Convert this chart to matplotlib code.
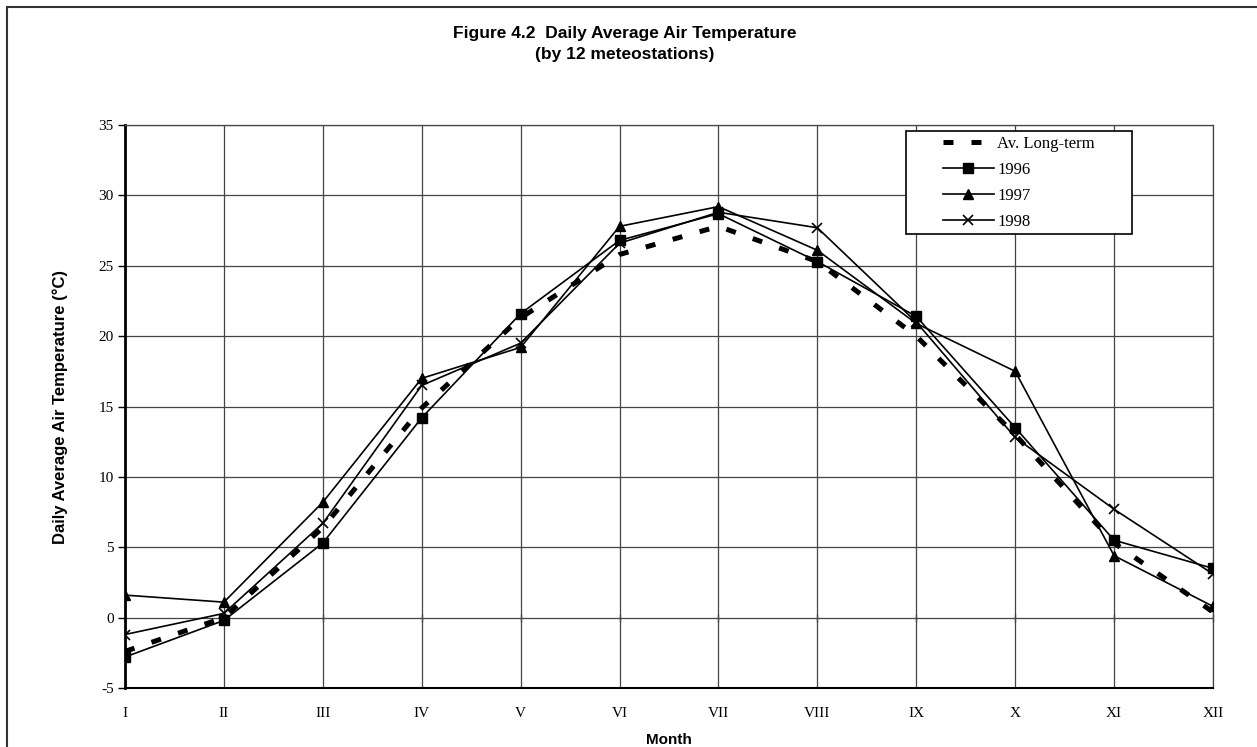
"""Figure 4.2 - daily average air temperature by month (12 meteostations)."""
import matplotlib

matplotlib.use("Agg")
import matplotlib.pyplot as plt
from matplotlib.patches import Rectangle

months = ["I", "II", "III", "IV", "V", "VI", "VII", "VIII", "IX", "X", "XI", "XII"]
long_term = [-2.4, 0.0, 6.4, 14.9, 21.3, 25.8, 27.8, 25.3, 20.0, 13.0, 5.3, 0.4]
t1996 = [-2.8, -0.2, 5.3, 14.2, 21.6, 26.8, 28.7, 25.3, 21.4, 13.5, 5.5, 3.5]
t1997 = [1.6, 1.1, 8.2, 17.0, 19.2, 27.8, 29.2, 26.1, 20.9, 17.5, 4.4, 0.8]
t1998 = [-1.2, 0.3, 6.7, 16.5, 19.5, 26.6, 28.8, 27.7, 21.0, 12.8, 7.7, 3.1]
yticks = [-5, 0, 5, 10, 15, 20, 25, 30, 35]

serif = "Liberation Serif"
sans = "Liberation Sans"

W, H = 1257, 747
fig = plt.figure(figsize=(W / 100, H / 100), dpi=100)
ax = fig.add_axes([125 / W, 1 - 688 / H, (1213 - 125) / W, (688 - 125) / H])

# outer chart frame (only top and left edges fall inside the picture)
fig.add_artist(Rectangle((7 / W, -0.2), 1.2, 1.2 - 7 / H, transform=fig.transFigure,
                         fill=False, ec="#333333", lw=1.5))

x = list(range(len(months)))
lines = []
lines += ax.plot(x, long_term, color="black", lw=3.6, dashes=(2.0, 3.6), label="Av. Long-term", zorder=3)
lines += ax.plot(x, t1996, color="black", lw=1.2, marker="s", ms=7, label="1996", zorder=4)
lines += ax.plot(x, t1997, color="black", lw=1.2, marker="^", ms=7, label="1997", zorder=4)
lines += ax.plot(x, t1998, color="black", lw=1.2, marker="x", ms=7, mew=1.2, label="1998", zorder=4)

ax.set_xlim(0, len(months) - 1)
ax.set_ylim(-5, 35)
ax.set_yticks(yticks)
ax.set_yticklabels([str(v) for v in yticks], fontfamily=serif, fontsize=11)
ax.set_xticks(x)
ax.set_xticklabels(months, fontfamily=serif, fontsize=11)
ax.tick_params(axis="x", length=0, pad=14)
ax.tick_params(axis="y", length=5, width=1, pad=3)
ax.grid(True, color="#444444", lw=0.9)
ax.set_axisbelow(True)
for side in ("top", "right"):
    ax.spines[side].set_color("#444444")
    ax.spines[side].set_linewidth(0.9)
ax.spines["left"].set_linewidth(2)
ax.spines["bottom"].set_linewidth(1.5)

# category axis crosses at zero: small tick marks on the 0 line
zero_axis = ax.secondary_xaxis(5 / 40)
zero_axis.set_xticks(x)
zero_axis.tick_params(direction="inout", length=6, width=1, labelbottom=False, colors="#444444")
zero_axis.spines["bottom"].set_visible(False)

ax.set_xlabel("Month", fontfamily=sans, fontweight="bold", fontsize=11, labelpad=9)
ax.set_ylabel("Daily Average Air Temperature (°C)", fontfamily=sans, fontweight="bold",
              fontsize=12, labelpad=22)

fig.text(0.497, 1 - 44 / H, "Figure 4.2  Daily Average Air Temperature\n(by 12 meteostations)",
         ha="center", va="center", fontfamily=sans, fontweight="bold", fontsize=12.5,
         linespacing=1.5)

# legend box drawn as its own patch so its size matches the original
fig.add_artist(Rectangle((906 / W, 1 - 234 / H), 226 / W, 103 / H, transform=fig.transFigure,
                         fc="white", ec="black", lw=1.2, zorder=4))
leg = fig.legend(handles=lines, loc="upper left", bbox_to_anchor=(938 / W, 1 - 131 / H),
                 prop={"family": serif, "size": 12}, frameon=False,
                 handlelength=3.05, handletextpad=0.2, labelspacing=0.6,
                 borderpad=0.3, borderaxespad=0)
leg.set_zorder(5)

fig.savefig("out.png", dpi=100)
